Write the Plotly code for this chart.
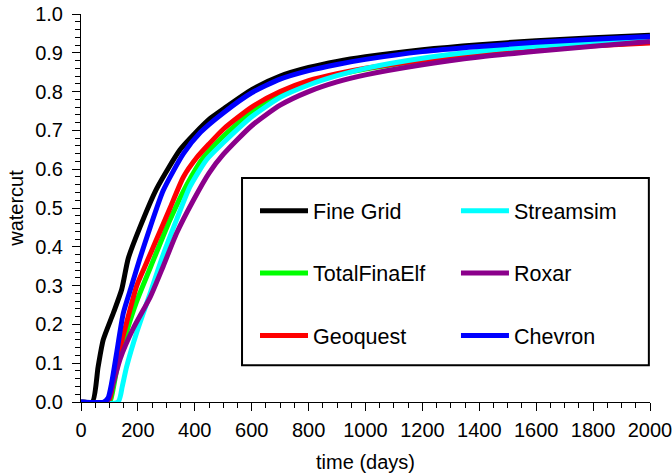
import plotly.graph_objects as go

names = ["Fine Grid", "TotalFinaElf", "Geoquest", "Streamsim", "Roxar", "Chevron"]
colors = ["#000000", "#00ff00", "#ff0000", "#00ffff", "#8b008b", "#0000ff"]

t_fine = [0, 40, 60, 78, 114, 143, 166, 207, 266, 348, 400, 453, 500, 600, 700, 800, 900, 1000, 1200, 1400, 1600, 1800, 2000]
w_fine = [0, 0, 0.09, 0.16, 0.23, 0.29, 0.37, 0.45, 0.55, 0.65, 0.692, 0.73, 0.755, 0.805, 0.840, 0.862, 0.878, 0.890, 0.908, 0.921, 0.931, 0.939, 0.945]

t_tfe = [0, 100, 112, 130, 160, 196, 254, 313, 372, 430, 500, 600, 700, 800, 900, 1000, 1200, 1400, 1600, 1800, 2000]
w_tfe = [0, 0, 0.03, 0.10, 0.18, 0.26, 0.365, 0.47, 0.56, 0.63, 0.685, 0.748, 0.792, 0.822, 0.843, 0.858, 0.880, 0.897, 0.909, 0.919, 0.927]

t_geo = [0, 95, 105, 120, 155, 196, 225, 266, 313, 360, 407, 450, 500, 600, 700, 800, 900, 1000, 1200, 1400, 1600, 1800, 2000]
w_geo = [0, 0, 0.02, 0.09, 0.19, 0.30, 0.35, 0.42, 0.50, 0.58, 0.63, 0.665, 0.703, 0.760, 0.800, 0.828, 0.846, 0.860, 0.881, 0.897, 0.908, 0.918, 0.925]

t_ss = [0, 130, 145, 160, 196, 243, 289, 336, 383, 442, 500, 600, 700, 800, 900, 1000, 1200, 1400, 1600, 1800, 2000]
w_ss = [0, 0, 0.04, 0.09, 0.18, 0.28, 0.38, 0.47, 0.555, 0.625, 0.668, 0.735, 0.785, 0.817, 0.841, 0.860, 0.886, 0.904, 0.917, 0.927, 0.935]

t_rox = [0, 90, 114, 137, 184, 243, 289, 336, 395, 450, 500, 600, 700, 800, 900, 1000, 1200, 1400, 1600, 1800, 2000]
w_rox = [0, 0, 0.05, 0.11, 0.19, 0.27, 0.35, 0.435, 0.52, 0.59, 0.638, 0.712, 0.765, 0.800, 0.825, 0.843, 0.869, 0.889, 0.904, 0.917, 0.929]

t_chev = [0, 80, 95, 108, 125, 149, 178, 207, 243, 289, 360, 420, 500, 600, 700, 800, 900, 1000, 1200, 1400, 1600, 1800, 2000]
w_chev = [0, 0, 0.01, 0.05, 0.125, 0.23, 0.30, 0.37, 0.45, 0.545, 0.64, 0.695, 0.745, 0.797, 0.832, 0.854, 0.870, 0.883, 0.903, 0.916, 0.927, 0.935, 0.942]

series = [(t_fine, w_fine), (t_tfe, w_tfe), (t_geo, w_geo), (t_ss, w_ss), (t_rox, w_rox), (t_chev, w_chev)]
legend_of = ["legend", "legend", "legend", "legend2", "legend2", "legend2"]

FONT = "Liberation Sans, Arial, sans-serif"

fig = go.Figure()
for name, col, (t, w), lg in zip(names, colors, series, legend_of):
    fig.add_trace(go.Scatter(
        x=t, y=w, mode="lines", name=name, legendgroup=name, legend=lg,
        line=dict(color=col, width=5, shape="spline", smoothing=0.6), cliponaxis=False,
    ))

axis_common = dict(
    showgrid=False, zeroline=False, showline=True, linecolor="black", linewidth=1,
    ticks="outside", ticklen=8, tickwidth=1, tickcolor="black",
    tickfont=dict(family=FONT, size=20, color="black"),
    mirror=False, automargin=False, ticklabeloverflow="allow",
)

fig.update_xaxes(range=[0, 2000], dtick=200, tick0=0, ticklabelstandoff=2,
                 minor=dict(dtick=50, ticks="outside", ticklen=5, tickcolor="black"),
                 title=dict(text="time (days)", font=dict(family=FONT, size=20, color="black"), standoff=14),
                 **axis_common)
fig.update_yaxes(range=[0, 1.0], dtick=0.1, tick0=0, tickformat=".1f", ticklabelstandoff=5,
                 minor=dict(dtick=0.02, ticks="outside", ticklen=5, tickcolor="black"),
                 title=dict(text="watercut", font=dict(family=FONT, size=20, color="black"), standoff=6),
                 **axis_common)

legend_common = dict(
    bgcolor="rgba(0,0,0,0)", borderwidth=0, tracegroupgap=31.5, itemwidth=48,
    font=dict(family=FONT, size=21.5, color="black"), yanchor="top", xanchor="left",
    orientation="v",
)
fig.update_layout(
    width=672, height=476,
    margin=dict(l=81, r=22, t=14, b=74),
    paper_bgcolor="white", plot_bgcolor="white",
    showlegend=True,
    legend=dict(x=0.3058, y=0.546, **legend_common),
    legend2=dict(x=0.659, y=0.546, **legend_common),
    shapes=[dict(type="rect", xref="paper", yref="paper", x0=0.283, x1=0.998, y0=0.095, y1=0.577,
                 line=dict(color="black", width=2), fillcolor="rgba(0,0,0,0)")],
)

fig.write_html("out.html", config={"displayModeBar": False},
               post_script="document.body.style.margin='0';document.body.style.overflow='hidden';")
